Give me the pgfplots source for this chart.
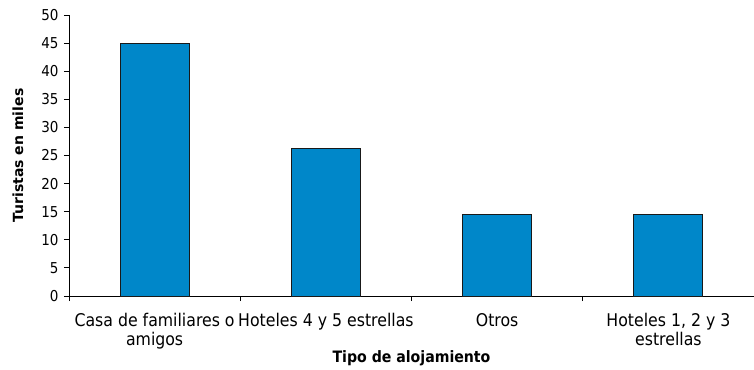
\documentclass[border=0pt]{standalone}
\usepackage{pgfplots}
\pgfplotsset{compat=1.18}
\usepackage{fontspec}
\setmainfont{DejaVu Sans}
\newfontfamily\catfont{DejaVu Sans Condensed}
\definecolor{barblue}{RGB}{0,135,201}
\begin{document}
\begin{tikzpicture}
\begin{axis}[
  scale only axis,
  width=685pt, height=281pt,
  xmin=-0.5, xmax=3.5, ymin=0, ymax=50,
  axis x line*=bottom, axis y line*=left,
  axis line style={black, line width=0.8pt},
  ytick={0,5,...,50},
  yticklabel style={font=\catfont\fontsize{15}{17}\selectfont, xshift=-2pt},
  /pgf/number format/assume math mode=true,
  tick align=outside,
  major tick length=5pt,
  tick style={black, line width=0.9pt},
  xtick={-0.5,0.5,1.5,2.5,3.5},
  xticklabels={},
  extra x ticks={0,1,2,3},
  extra x tick labels={{Casa de familiares o\\amigos},{Hoteles 4 y 5 estrellas},{Otros},{Hoteles 1, 2 y 3\\estrellas}},
  extra x tick style={major tick length=0pt, xticklabel style={font=\catfont\fontsize{17.5}{19}\selectfont, align=center, yshift=-14pt}},
  every axis y label/.style={at={(axis description cs:0,0.5)}, rotate=90, anchor=center, yshift=51pt, font=\bfseries\fontsize{14}{16}\selectfont},
  ylabel={Turistas en miles},
  every axis x label/.style={at={(axis description cs:0.5,0)}, anchor=base, yshift=-66pt, font=\catfont\bfseries\fontsize{15.7}{18}\selectfont},
  xlabel={Tipo de alojamiento},
  ybar, bar width=69pt,
  clip=false,
]
\addplot[fill=barblue, draw=black!90, line width=0.9pt] coordinates {(0,45) (1,26.3) (2,14.5) (3,14.5)};
\end{axis}
\pgfresetboundingbox
\path ([shift={(-69pt,-73pt)}]current axis.south west) rectangle ([shift={(0pt,15pt)}]current axis.north east);
\end{tikzpicture}
\end{document}
